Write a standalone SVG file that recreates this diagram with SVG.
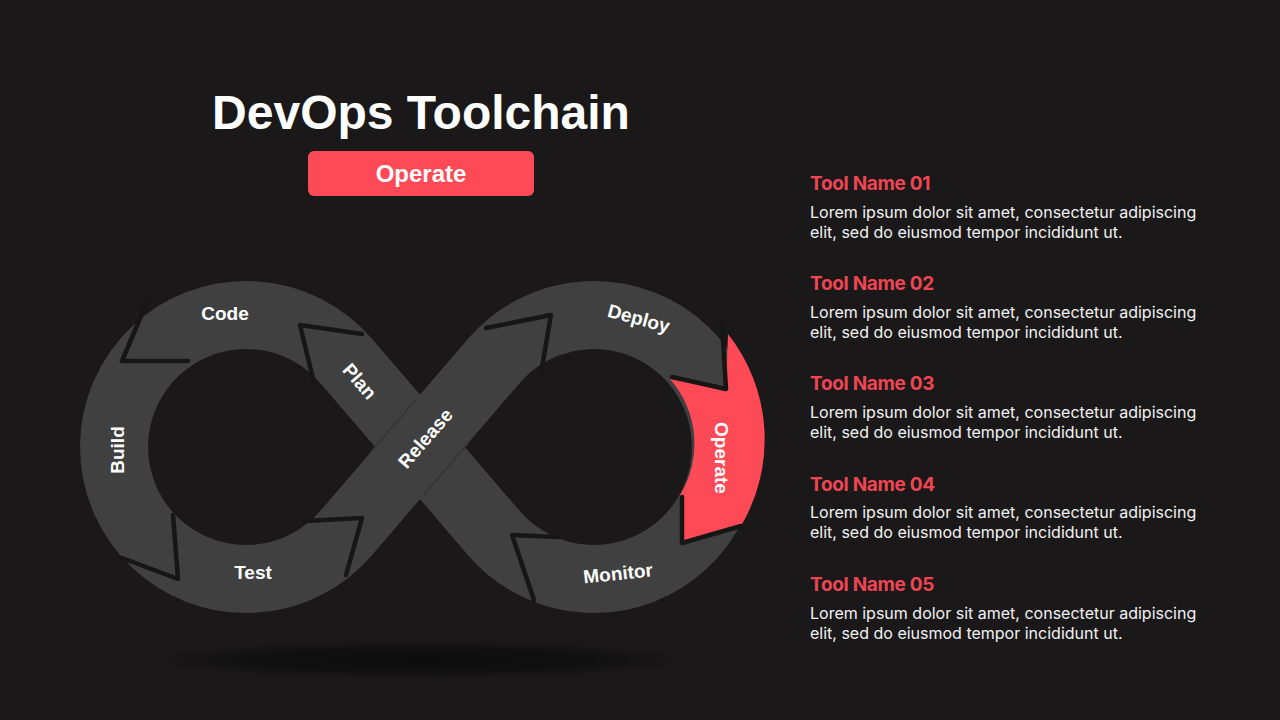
<svg xmlns="http://www.w3.org/2000/svg" width="1280" height="720" viewBox="0 0 1280 720">
<defs>
<radialGradient id="shade" cx="0.5" cy="0.5" r="0.5">
<stop offset="0" stop-color="#0c0c0c" stop-opacity="1"/>
<stop offset="0.55" stop-color="#0e0e0e" stop-opacity="0.8"/>
<stop offset="1" stop-color="#1a1819" stop-opacity="0"/>
</radialGradient>
<style>
.bg{fill:#1a1819}
.band{fill:none;stroke:#404040;stroke-width:68;stroke-linejoin:round}
.sep{fill:none;stroke:#161616;stroke-width:4.5;stroke-linejoin:round;stroke-linecap:round}
.lbl{font-family:"Liberation Sans",Arial,sans-serif;font-weight:700;font-size:19px;fill:#ffffff;text-anchor:middle}
.title{font-family:"Liberation Sans",Arial,sans-serif;font-weight:700;font-size:48px;fill:#ffffff;text-anchor:middle}
.btn{font-family:"Liberation Sans",Arial,sans-serif;font-weight:700;font-size:24px;fill:#ffffff;text-anchor:middle}
.hd{font-family:Inter,"Liberation Sans",sans-serif;font-weight:700;font-size:19px;fill:#f04553;letter-spacing:-0.3px}
.bd{font-family:Inter,"Liberation Sans",sans-serif;font-weight:400;font-size:16px;fill:#f2f2f2}
</style>
</defs>
<rect class="bg" x="0" y="0" width="1280" height="720"/>

<g id="shadow"><ellipse cx="420" cy="660" rx="310" ry="22" fill="url(#shade)"/></g>

<g id="title">
<text class="title" x="421" y="129">DevOps Toolchain</text>
</g>
<g id="badge">
<rect x="308" y="151" width="226" height="45" rx="6" fill="#fe4a57"/>
<text class="btn" x="421" y="182">Operate</text>
</g>

<g id="infinity">
<path class="band" d="M 420 447 L 346.2 361 A 132 132 0 1 0 346.2 533 L 493.8 361 A 132 132 0 1 1 493.8 533 Z"/>
<g stroke="#343434" stroke-width="1.5" fill="none">
<line x1="423" y1="495.7" x2="468.6" y2="442.7"/>
<line x1="371.4" y1="451.3" x2="417" y2="398.3"/>
</g>
</g>

<g id="node-operate">
<path d="M 728 334 A 170 170 0 0 1 741 526 L 682 543 L 680 495 A 98 98 0 0 0 670 379 L 726 389 Z" fill="#fe4a57"/>
<path class="sep" d="M 741 526 L 682 543 L 682 497"/>
<text class="lbl" transform="translate(722,458) rotate(90)" y="7">Operate</text>
</g>

<g id="connectors">
<polyline class="sep" points="147,302 122,361 188,361"/>
<polyline class="sep" points="173,515 178,579 122,558"/>
<polyline class="sep" points="362,334 300,325 314,383"/>
<polyline class="sep" points="305,521 362,518 346,575"/>
<polyline class="sep" points="486,328 551,315 541,373"/>
<polyline class="sep" points="722,324 726,389 672,377"/>
<polyline class="sep" points="557,537 512,535 534,600"/>
</g>

<g id="node-code"><text class="lbl" x="225" y="320">Code</text></g>
<g id="node-build"><text class="lbl" transform="translate(117,450) rotate(-90)" y="7">Build</text></g>
<g id="node-test"><text class="lbl" x="253" y="579">Test</text></g>
<g id="node-plan"><text class="lbl" transform="translate(360,381) rotate(49)" y="7">Plan</text></g>
<g id="node-release"><text class="lbl" transform="translate(425,438) rotate(-49)" y="7">Release</text></g>
<g id="node-deploy"><text class="lbl" transform="translate(639,318) rotate(15)" y="7">Deploy</text></g>
<g id="node-monitor"><text class="lbl" transform="translate(618,573) rotate(-6)" y="7">Monitor</text></g>

<g id="tool-01">
<text class="hd" x="810" y="190">Tool Name 01</text>
<text class="bd" x="810" y="218">Lorem ipsum dolor sit amet, consectetur adipiscing</text>
<text class="bd" x="810" y="238">elit, sed do eiusmod tempor incididunt ut.</text>
</g>
<g id="tool-02">
<text class="hd" x="810" y="290">Tool Name 02</text>
<text class="bd" x="810" y="318">Lorem ipsum dolor sit amet, consectetur adipiscing</text>
<text class="bd" x="810" y="338">elit, sed do eiusmod tempor incididunt ut.</text>
</g>
<g id="tool-03">
<text class="hd" x="810" y="390">Tool Name 03</text>
<text class="bd" x="810" y="418">Lorem ipsum dolor sit amet, consectetur adipiscing</text>
<text class="bd" x="810" y="438">elit, sed do eiusmod tempor incididunt ut.</text>
</g>
<g id="tool-04">
<text class="hd" x="810" y="491">Tool Name 04</text>
<text class="bd" x="810" y="518">Lorem ipsum dolor sit amet, consectetur adipiscing</text>
<text class="bd" x="810" y="538">elit, sed do eiusmod tempor incididunt ut.</text>
</g>
<g id="tool-05">
<text class="hd" x="810" y="591">Tool Name 05</text>
<text class="bd" x="810" y="619">Lorem ipsum dolor sit amet, consectetur adipiscing</text>
<text class="bd" x="810" y="639">elit, sed do eiusmod tempor incididunt ut.</text>
</g>
</svg>
